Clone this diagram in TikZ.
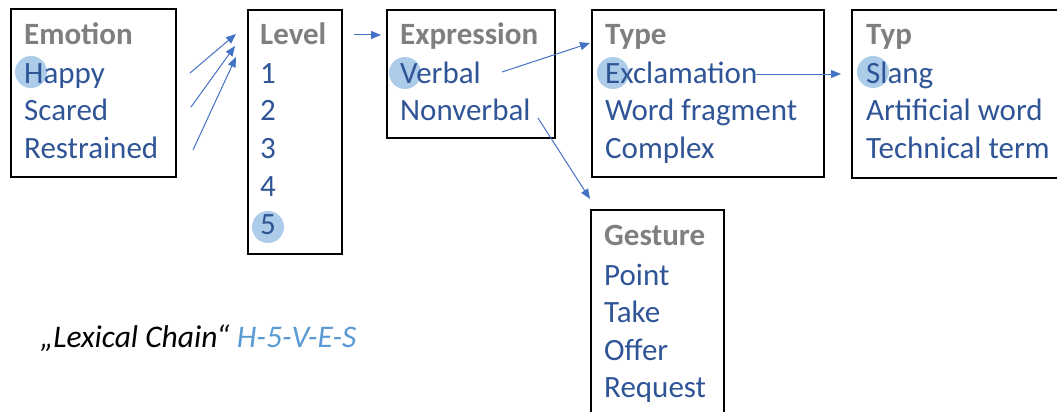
\documentclass[tikz,border=0pt]{standalone}
\usepackage{fontspec}
\setmainfont{Carlito}
\usetikzlibrary{arrows.meta}
\definecolor{hdr}{RGB}{127,127,127}
\definecolor{item}{RGB}{47,85,151}
\definecolor{arr}{RGB}{68,114,196}
\definecolor{markfill}{RGB}{157,195,230}
\definecolor{chain}{RGB}{91,155,213}
\begin{document}
\begin{tikzpicture}[x=1pt,y=-1pt,
  box/.style={draw=black,line width=1.6pt,rectangle,inner sep=0pt,anchor=north west},
  hd/.style={anchor=base west,inner sep=0pt,text=hdr,font=\fontsize{31}{36}\selectfont\bfseries},
  it/.style={anchor=base west,inner sep=0pt,text=item,font=\fontsize{31}{36}\selectfont},
  hl/.style={circle,fill=markfill,fill opacity=0.85,minimum size=32pt,inner sep=0pt},
  con/.style={draw=arr,line width=1pt,-{Triangle[length=10pt,width=8pt]}}]
\useasboundingbox (0,0) rectangle (1057,412);
\clip (0,0) rectangle (1057,412);

% boxes
\node[box,minimum width=165pt,minimum height=168pt] (emotion) at (10,8) {};
\node[box,minimum width=94pt,minimum height=244pt] (level) at (247,9) {};
\node[box,minimum width=168pt,minimum height=128pt] (expression) at (386,9) {};
\node[box,minimum width=232pt,minimum height=167pt] (type) at (591,9) {};
\node[box,minimum width=230pt,minimum height=168pt] (typ) at (851,9) {};
\node[box,minimum width=133pt,minimum height=230pt] (gesture) at (590,209) {};

% highlighted choices
\node[hl] (hH) at (31,72) {};
\node[hl] (h5) at (268,227) {};
\node[hl] (hV) at (405,73) {};
\node[hl] (hE) at (613,73) {};
\node[hl] (hS) at (873,72) {};

% Emotion
\node[hd] (tEmotion) at (24,45) {Emotion};
\node[it] (tHappy) at (24,83) {Happy};
\node[it] (tScared) at (24,120) {Scared};
\node[it] (tRestrained) at (24,158) {Restrained};

% Level
\node[hd] (tLevel) at (260,45) {Level};
\node[it] (t1) at (260,83) {1};
\node[it] (t2) at (260,120) {2};
\node[it] (t3) at (260,158) {3};
\node[it] (t4) at (260,196) {4};
\node[it] (t5) at (260,234) {5};

% Expression
\node[hd] (tExpression) at (400,45) {Expression};
\node[it] (tVerbal) at (400,83) {Verbal};
\node[it] (tNonverbal) at (400,120) {Nonverbal};

% Type
\node[hd] (tType) at (605,45) {Type};
\node[it] (tExcl) at (605,83) {Exclamation};
\node[it] (tFrag) at (605,120) {Word fragment};
\node[it] (tComplex) at (605,158) {Complex};

% Typ
\node[hd] (tTyp) at (866,45) {Typ};
\node[it] (tSlang) at (866,83) {Slang};
\node[it] (tArt) at (866,120) {Artificial word};
\node[it] (tTech) at (866,158) {Technical term};

% Gesture
\node[hd] (tGesture) at (604,245) {Gesture};
\node[it] (tPoint) at (604,285) {Point};
\node[it] (tTake) at (604,322) {Take};
\node[it] (tOffer) at (604,360) {Offer};
\node[it] (tRequest) at (604,397) {Request};

% chain label
\node[anchor=base west,inner sep=0pt,font=\fontsize{31.5}{36}\selectfont\itshape] (chainlbl) at (40,347)
  {„Lexical Chain“ \textcolor{chain}{H-5-V-E-S}};

% connector end points
\coordinate (a1) at (190,73);
\coordinate (a2) at (191,107);
\coordinate (a3) at (193,150);
\coordinate (b1) at (236,34);
\coordinate (b2) at (235,46);
\coordinate (b3) at (236,57);
\coordinate (c1) at (354,35);
\coordinate (c2) at (381,35);
\coordinate (d1) at (502,72);
\coordinate (d2) at (590,43);
\coordinate (e1) at (538,118);
\coordinate (e2) at (590,199);
\coordinate (f1) at (756,74);
\coordinate (f2) at (841,74);

\draw[con] (a1) -- (b1);
\draw[con] (a2) -- (b2);
\draw[con] (a3) -- (b3);
\draw[con] (c1) -- (c2);
\draw[con] (d1) -- (d2);
\draw[con] (e1) -- (e2);
\draw[con] (f1) -- (f2);
\end{tikzpicture}
\end{document}
